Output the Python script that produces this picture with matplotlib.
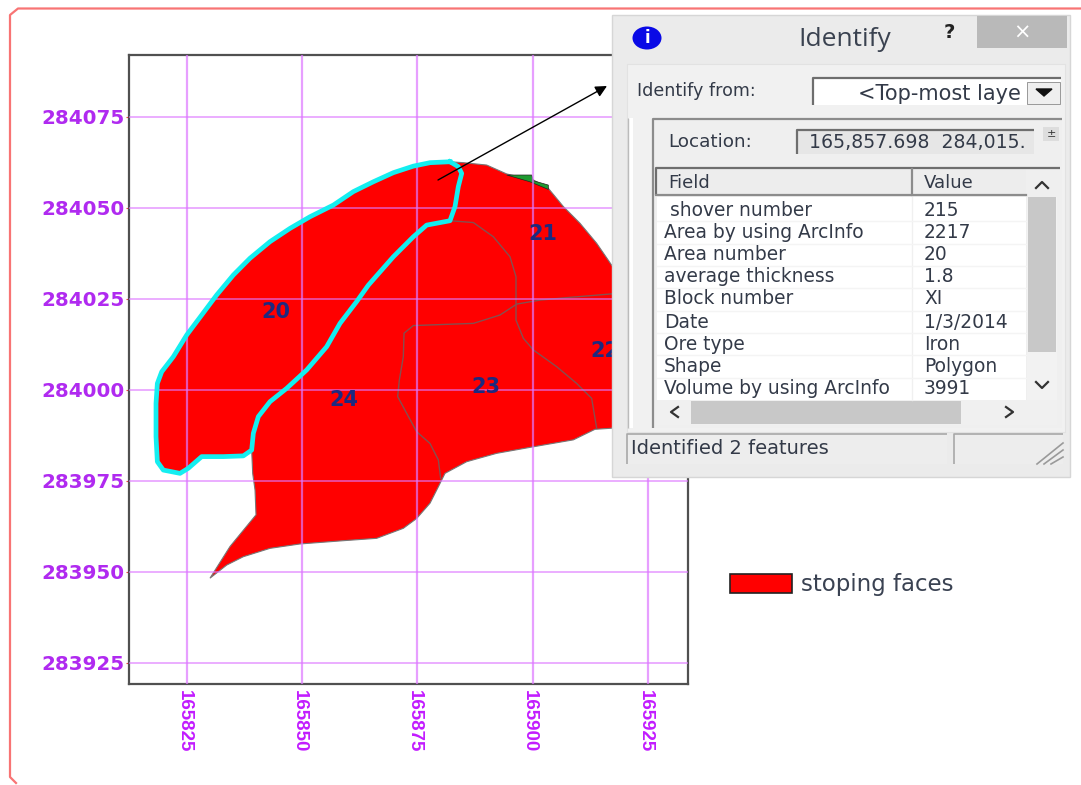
#!/usr/bin/env python3
"""Stoping faces map with the ArcGIS Identify dialog on top of it."""

import matplotlib
matplotlib.use('Agg')
import matplotlib.pyplot as plt
from matplotlib.patches import Rectangle, Ellipse, Patch
from matplotlib.transforms import ScaledTranslation

# map data, easting / northing
x_ticks = [165825, 165850, 165875, 165900, 165925]
y_ticks = [283925, 283950, 283975, 284000, 284025, 284050, 284075]

# whole stope outline, clockwise from the top
outline_e = [165882.05, 165884.95, 165890.01, 165894.35, 165900.13, 165903.38, 165906.64,
             165910.25, 165913.87, 165917.12, 165921.10, 165921.10, 165917.12, 165913.51,
             165908.81, 165900.13, 165892.18, 165885.67, 165880.97, 165879.52, 165877.72,
             165874.82, 165871.93, 165866.15, 165858.92, 165849.52, 165843.01, 165837.22,
             165833.61, 165829.99, 165834.33, 165839.97, 165839.76, 165839.25, 165839.03,
             165837.22, 165832.89, 165828.19, 165825.29, 165823.49, 165819.87, 165818.57,
             165818.28, 165818.28, 165818.57, 165819.51, 165822.04, 165824.93, 165828.19,
             165831.44, 165835.06, 165838.67, 165843.01, 165847.35, 165851.69, 165856.75,
             165861.09, 165865.42, 165869.76, 165874.10, 165877.72]
outline_n = [284062.7, 284062.45, 284061.8, 284059.35, 284057.7, 284055.4, 284050.4,
             284045.8, 284040.3, 284034.3, 284027.5, 283992.7, 283989.5, 283989.2,
             283986.3, 283984.4, 283982.6, 283980.3, 283977.1, 283973.4, 283968.9,
             283964.7, 283962.0, 283959.25, 283958.6, 283957.7, 283956.5, 283954.2,
             283951.9, 283948.3, 283957.0, 283965.7, 283972.5, 283977.1, 283983.5,
             283981.9, 283981.7, 283981.7, 283978.5, 283977.1, 283978.0, 283980.3,
             283987.2, 283996.3, 284001.8, 284005.0, 284009.15, 284015.1, 284020.6,
             284026.1, 284031.6, 284036.2, 284040.75, 284044.4, 284047.6, 284050.8,
             284054.5, 284057.2, 284059.7, 284061.5, 284062.45]

# selected polygon (area 20), drawn in cyan
sel_e = [165882.05, 165877.72, 165874.10, 165869.76, 165865.42, 165861.09, 165856.75,
         165851.69, 165847.35, 165843.01, 165838.67, 165835.06, 165831.44, 165828.19,
         165824.93, 165822.04, 165819.51, 165818.57, 165818.28, 165818.28, 165818.57,
         165819.87, 165823.49, 165825.29, 165828.19, 165832.89, 165837.22, 165839.03,
         165839.39, 165840.48, 165843.01, 165846.62, 165850.96, 165855.30, 165858.19,
         165861.81, 165864.34, 165869.76, 165874.10, 165876.99, 165882.05, 165883.14,
         165883.86, 165884.59, 165883.86, 165882.05]
sel_n = [284062.7, 284062.45, 284061.5, 284059.7, 284057.2, 284054.5, 284050.8,
         284047.6, 284044.4, 284040.75, 284036.2, 284031.6, 284026.1, 284020.6,
         284015.1, 284009.15, 284005.0, 284001.8, 283996.3, 283987.2, 283980.3,
         283978.0, 283977.1, 283978.5, 283981.7, 283981.7, 283981.9, 283983.5,
         283988.1, 283992.7, 283996.8, 284000.45, 284005.5, 284011.9, 284018.3,
         284024.3, 284028.8, 284036.6, 284042.1, 284045.3, 284046.5, 284050.4,
         284055.9, 284059.5, 284061.35, 284062.7]

# inner area boundaries
line_a_e = [165882.05, 165887.12, 165891.45, 165895.07, 165896.37, 165896.37, 165897.96,
            165900.13, 165905.19, 165909.53, 165912.78, 165913.87]
line_a_n = [284046.5, 284046.0, 284042.1, 284036.6, 284031.1, 284019.2, 284014.2,
            284011.0, 284006.4, 284001.8, 283997.7, 283989.5]
line_b_e = [165917.12, 165908.08, 165901.58, 165896.52, 165892.90, 165887.12, 165874.10,
            165872.08, 165871.93, 165871.06, 165870.70, 165872.65, 165874.82, 165877.72,
            165879.52, 165880.03]
line_b_n = [284026.4, 284025.45, 284024.7, 284023.6, 284020.6, 284018.3, 284017.7,
            284015.6, 284009.15, 284002.7, 283998.2, 283993.6, 283988.55, 283985.3,
            283980.8, 283975.7]

# small green sliver on the top edge
green_e = [165894.35, 165899.77, 165900.13, 165903.38, 165903.38, 165899.4]
green_n = [284059.06, 284059.06, 284057.5, 284056.3, 284055.1, 284057.2]

area_labels = ['20', '21', '22', '23', '24']
area_e = [165844.3, 165902.2, 165915.7, 165889.9, 165859.1]
area_n = [284021.4, 284042.9, 284010.7, 284000.8, 283997.3]

# dialog contents
fields = ['shover number', 'Area by using ArcInfo', 'Area number', 'average thickness',
          'Block number', 'Date', 'Ore type', 'Shape', 'Volume by using ArcInfo']
values = ['215', '2217', '20', '1.8', 'XI', '1/3/2014', 'Iron', 'Polygon', '3991']

GRID = '#DE77FF'
DLG_TEXT = '#333A48'

fig = plt.figure(figsize=(10.81, 7.85), dpi=100, facecolor='white')
ax = fig.add_axes([129 / 1081, 1 - 684 / 785, 559 / 1081, 629 / 785])
ax.set_xlim(165812.42, 165933.68)
ax.set_ylim(283919.23, 284092.03)

# polygons
ax.fill(outline_e, outline_n, facecolor='#FF0000', edgecolor='#777777', lw=0.8, zorder=2)
ax.fill(green_e, green_n, facecolor='#1E9A30', edgecolor='#222222', lw=0.5, zorder=3)
ax.plot(line_a_e, line_a_n, color='#855050', lw=1.0, zorder=3)
ax.plot(line_b_e, line_b_n, color='#855050', lw=1.0, zorder=3)

# grid goes over the polygons
for xv in x_ticks:
    ax.axvline(xv, color=GRID, lw=1.6, alpha=0.7, zorder=4)
for yv in y_ticks:
    ax.axhline(yv, color=GRID, lw=1.2, alpha=0.7, zorder=4)

ax.plot(sel_e, sel_n, color='#14EEF0', lw=3.4, zorder=5, solid_joinstyle='round')

for lab, e, n in zip(area_labels, area_e, area_n):
    ax.text(e, n, lab, color='#1C2A80', fontsize=15, fontweight='bold',
            ha='center', va='center', zorder=6)

for side in ax.spines.values():
    side.set_color('#505050')
    side.set_linewidth(1.6)

ax.set_xticks(x_ticks)
ax.set_yticks(y_ticks)
ax.set_xticklabels([str(v) for v in x_ticks], rotation=-90, color='#C21CFF', fontsize=13.5,
                   fontweight='bold', family='Liberation Sans')
ax.set_yticklabels([str(v) for v in y_ticks], color='#B02AF0', fontsize=14.3, fontweight='bold')
ax.tick_params(axis='x', length=0, pad=4)
ax.tick_params(axis='y', length=2, color='#F04040', pad=1)

# x labels sit a little left of their grid lines
nudge = ScaledTranslation(-3 / 100, 0, fig.dpi_scale_trans)
for tl in ax.get_xticklabels():
    tl.set_transform(tl.get_transform() + nudge)

ax.legend(handles=[Patch(facecolor='#FF0000', edgecolor='#222222', lw=1.2, label='stoping faces')],
          loc='center left', bbox_to_anchor=(709 / 1081, 1 - 585 / 785),
          bbox_transform=fig.transFigure, frameon=False, fontsize=16.5,
          labelcolor='#3A4252', handlelength=2.72, handleheight=0.9, handletextpad=0.4)

# overlay in pixel coordinates for the frame, the arrow and the dialog
ov = fig.add_axes([0, 0, 1, 1], zorder=10)
ov.set_xlim(0, 1081)
ov.set_ylim(785, 0)
ov.axis('off')


def box(x0, y0, x1, y1, fc, ec='none', lw=0.0):
    ov.add_patch(Rectangle((x0, y0), x1 - x0, y1 - y0, facecolor=fc, edgecolor=ec, linewidth=lw))


def sunken(x0, y0, x1, y1, color='#6E6E6E', lw=1.6):
    # dark top and left edge, windows style
    ov.plot([x0, x0, x1], [y1, y0, y0], color=color, lw=lw, solid_capstyle='butt')


def label(x, y, s, size=13.4, color=DLG_TEXT, **kw):
    ov.text(x, y, s, fontsize=size, color=color, va='center', **kw)


# pink frame round the whole picture
ov.plot([1081, 18, 10, 10, 16], [8.5, 8.5, 15, 777, 783], color='#F87474', lw=1.6)

ov.annotate('', xy=(607, 86), xytext=(438, 180),
            arrowprops=dict(arrowstyle='-|>', color='black', lw=1.0, mutation_scale=17,
                            shrinkA=0, shrinkB=0))

# dialog
box(612, 15, 1070, 477, '#EBEBEB', '#D6D6D6', 1.0)
box(977, 16, 1067, 48, '#B9B9B9')
label(1022, 33, '×', size=15, color='white', ha='center')
label(949, 32, '?', size=14, color='#222222', ha='center', fontweight='bold')
label(845, 40, 'Identify', size=19, color='#3A4250', ha='center', family='Open Sans')
ov.add_patch(Ellipse((647, 38), 29, 23, facecolor='#0A0AE6', edgecolor='none'))
label(647, 38, 'i', size=12, color='white', ha='center', fontweight='bold')

box(627, 64, 1065, 432, '#F1F1F1', '#E2E2E2', 0.8)
label(637, 91, 'Identify from:', size=12.6)
box(813, 78, 1061, 105, 'white')
sunken(813, 78, 1061, 105)
box(1027, 82, 1060, 104, '#EFEFEF', '#8A8A8A', 0.6)
ov.fill([1036, 1052, 1044], [89, 89, 96], color='#111111')
label(858, 94, '<Top-most laye', size=15)

box(629, 118, 633, 428, 'white')
sunken(628, 118, 628, 428, '#BBBBBB', 1.0)
box(652, 118, 1062, 428, '#EFEFEF')
sunken(653, 119, 1062, 428, '#8C8C8C', 1.6)

label(668, 142, 'Location:', size=13.2)
box(796, 129, 1034, 154, '#E6E6E6')
sunken(797, 130, 1034, 154)
label(809, 142, '165,857.698  284,015.', size=13.6)
box(1043, 127, 1059, 141, '#DDDDDD')
label(1051, 134, '±', size=8, color='#333333', ha='center')

# table header and rows
box(656, 168, 1026, 195, '#EDEDED')
sunken(656, 168, 1060, 195)
ov.plot([656, 1026], [195, 195], color='#8C8C8C', lw=1.6)
ov.plot([912, 912], [169, 195], color='#8C8C8C', lw=1.6)
label(668, 183, 'Field', size=13)
label(924, 183, 'Value', size=13)
box(657, 197, 1026, 400, 'white')
ov.plot([912, 912], [197, 400], color='#F0F0F0', lw=1.0)

row_y = [210, 232, 255, 277, 299, 322, 344, 366, 389]
for i, (f, v) in enumerate(zip(fields, values)):
    fx = 670 if i == 0 else 664
    label(fx, row_y[i], f)
    label(924, row_y[i], v)
    if i:
        ov.plot([657, 1026], [row_y[i] - 11.5] * 2, color='#F4F4F4', lw=1.0)

# scroll bars
box(1027, 197, 1057, 400, '#F2F2F2')
box(1028, 197, 1056, 352, '#C8C8C8')
ov.plot([1036, 1042, 1048], [188, 182, 188], color='#333333', lw=1.6)
ov.plot([1036, 1042, 1048], [382, 388, 382], color='#333333', lw=1.6)
box(657, 400, 1057, 425, '#F0F0F0')
box(691, 401, 961, 424, '#C8C8C8')
ov.plot([678, 671, 678], [407, 412, 417], color='#333333', lw=1.6)
ov.plot([1006, 1013, 1006], [407, 412, 417], color='#333333', lw=1.6)

# status bar
box(627, 433, 947, 464, '#EDEDED')
sunken(627, 434, 947, 464, '#A8A8A8', 1.2)
label(631, 449, 'Identified 2 features', size=14)
box(954, 433, 1063, 464, '#EDEDED')
sunken(954, 434, 1063, 464, '#A8A8A8', 1.2)
for off in (0, 7, 14):
    ov.plot([1037 + off, 1063], [464, 443 + off], color='#9A9A9A', lw=1.2)

fig.savefig('out.png', dpi=100)
